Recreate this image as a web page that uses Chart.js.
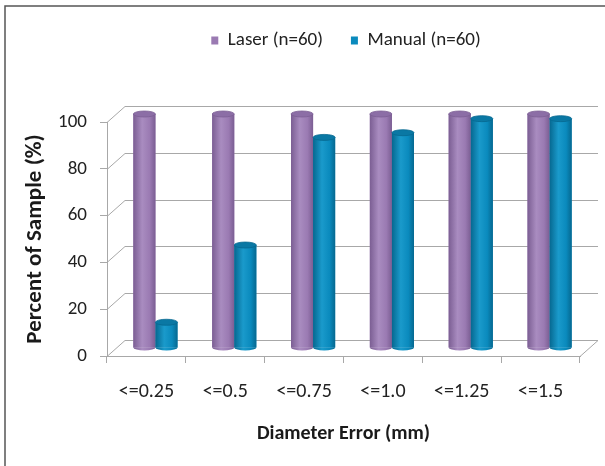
<!DOCTYPE html>
<html><head><meta charset="utf-8">
<script src="https://cdn.jsdelivr.net/npm/chart.js@4.4.0/dist/chart.umd.min.js"></script>
<style>html,body{margin:0;padding:0;background:#fff;}#wrap{width:605px;height:466px;position:relative;}</style>
</head><body><div id="wrap"><canvas id="c" width="605" height="466"></canvas></div>
<script>
const categories = ['<=0.25', '<=0.5', '<=0.75', '<=1.0', '<=1.25', '<=1.5'];
const laserValues = [100, 100, 100, 100, 100, 100];
const manualValues = [11, 44, 90, 92, 98, 98];
const seriesNames = ['Laser (n=60)', 'Manual (n=60)'];
const yMin = 0, yMax = 100, yStep = 20;

const FONT = 'Carlito, Lato, sans-serif';
const GRID = '#a8a8a8';
const BACK = {dx: 18, dy: -16};
const MID = {dx: 9, dy: -8};
const LEGEND_H = 119;
const LEGEND_SHIFT = 49;

const palette = [
  {flat: '#9a7ab2', dark: '#7b5e93', light: '#a98cc0', top: '#8c6ea6'},
  {flat: '#0a8abd', dark: '#066890', light: '#1a9acb', top: '#0a78a4'}
];

const frame = {
  id: 'frame',
  beforeDraw(chart) {
    const c = chart.ctx;
    c.save();
    c.fillStyle = '#fff';
    c.fillRect(0, 0, chart.width, chart.height);
    c.strokeStyle = '#555';
    c.lineWidth = 1.5;
    c.beginPath();
    c.moveTo(5, chart.height); c.lineTo(5, 6); c.lineTo(chart.width, 6);
    c.stroke();
    c.restore();
  }
};

const legendSpacer = {
  id: 'legendSpacer',
  beforeInit(chart) {
    const lg = chart.legend;
    const fit = lg.fit;
    lg.fit = function () { fit.call(this); this.height = LEGEND_H; };
    const draw = lg.draw;
    lg.draw = function () {
      const c = this.ctx;
      c.save();
      c.translate(LEGEND_SHIFT, 0);
      draw.apply(this, arguments);
      c.restore();
    };
  }
};

const depth = {
  id: 'depth',
  beforeDatasetsDraw(chart) {
    const c = chart.ctx, a = chart.chartArea, y = chart.scales.y;
    c.save();
    c.strokeStyle = GRID;
    c.lineWidth = 1;
    y.ticks.forEach(t => {
      const py = Math.round(y.getPixelForValue(t.value)) + 0.5;
      c.beginPath();
      c.moveTo(a.left, py);
      c.lineTo(a.left + BACK.dx, py + BACK.dy);
      c.lineTo(a.right + BACK.dx, py + BACK.dy);
      c.stroke();
    });
    const p0 = Math.round(y.getPixelForValue(yMin)) + 0.5;
    c.beginPath();
    c.moveTo(a.right, p0);
    c.lineTo(a.right + BACK.dx, p0 + BACK.dy);
    c.stroke();
    c.restore();
    c.save();
    c.translate(MID.dx, MID.dy);
  },
  afterDatasetsDraw(chart) {
    const c = chart.ctx;
    chart.data.datasets.forEach((ds, di) => {
      const meta = chart.getDatasetMeta(di);
      const col = palette[di];
      meta.data.forEach(el => {
        const p = el.getProps(['x', 'y', 'base', 'width'], true);
        const w = p.width, l = p.x - w / 2, ry = 3;
        const g = c.createLinearGradient(l, 0, l + w, 0);
        g.addColorStop(0, col.dark);
        g.addColorStop(0.4, col.light);
        g.addColorStop(0.75, col.flat);
        g.addColorStop(1, col.dark);
        c.fillStyle = g;
        c.fillRect(l, p.y, w, p.base - p.y);
        c.beginPath();
        c.ellipse(p.x, p.base, w / 2, ry, 0, 0, Math.PI);
        c.fill();
        c.beginPath();
        c.ellipse(p.x, p.y, w / 2, ry, 0, 0, Math.PI * 2);
        c.fillStyle = col.top;
        c.fill();
        c.strokeStyle = col.dark;
        c.lineWidth = 0.8;
        c.stroke();
      });
    });
    c.restore();
  }
};

new Chart(document.getElementById('c'), {
  type: 'bar',
  data: {
    labels: categories,
    datasets: [
      {label: seriesNames[0], data: laserValues, backgroundColor: palette[0].flat, clip: false,
       categoryPercentage: 0.56, barPercentage: 1.0},
      {label: seriesNames[1], data: manualValues, backgroundColor: palette[1].flat, clip: false,
       categoryPercentage: 0.56, barPercentage: 1.0}
    ]
  },
  options: {
    responsive: false,
    animation: false,
    layout: {padding: {top: 3, left: 14, right: 25, bottom: 20}},
    plugins: {
      tooltip: {enabled: false},
      legend: {
        position: 'top',
        labels: {boxWidth: 7, boxHeight: 8, padding: 28, color: '#222',
                 font: {family: FONT, size: 19}}
      }
    },
    scales: {
      x: {
        afterFit(s) { s.height = 90; },
        grid: {display: true, drawOnChartArea: false, tickLength: 7, color: GRID, offset: true},
        border: {display: true, color: GRID},
        ticks: {padding: 17, maxRotation: 0, color: '#222', font: {family: FONT, size: 20}},
        title: {display: true, text: 'Diameter Error (mm)', color: '#1a1a1a',
                font: {family: FONT, size: 20, weight: 'bold'}, padding: {top: 0, bottom: 0}}
      },
      y: {
        afterFit(s) { s.width = 93; },
        min: yMin, max: yMax,
        grid: {display: true, drawOnChartArea: false, tickLength: 7, color: GRID},
        border: {display: true, color: GRID},
        ticks: {stepSize: yStep, padding: 13, color: '#222', font: {family: FONT, size: 19}},
        title: {display: true, text: 'Percent of Sample (%)', color: '#1a1a1a',
                font: {family: FONT, size: 23, weight: 'bold'}, padding: {top: 7, bottom: 0}}
      }
    }
  },
  plugins: [frame, legendSpacer, depth]
});
</script>
</body></html>
